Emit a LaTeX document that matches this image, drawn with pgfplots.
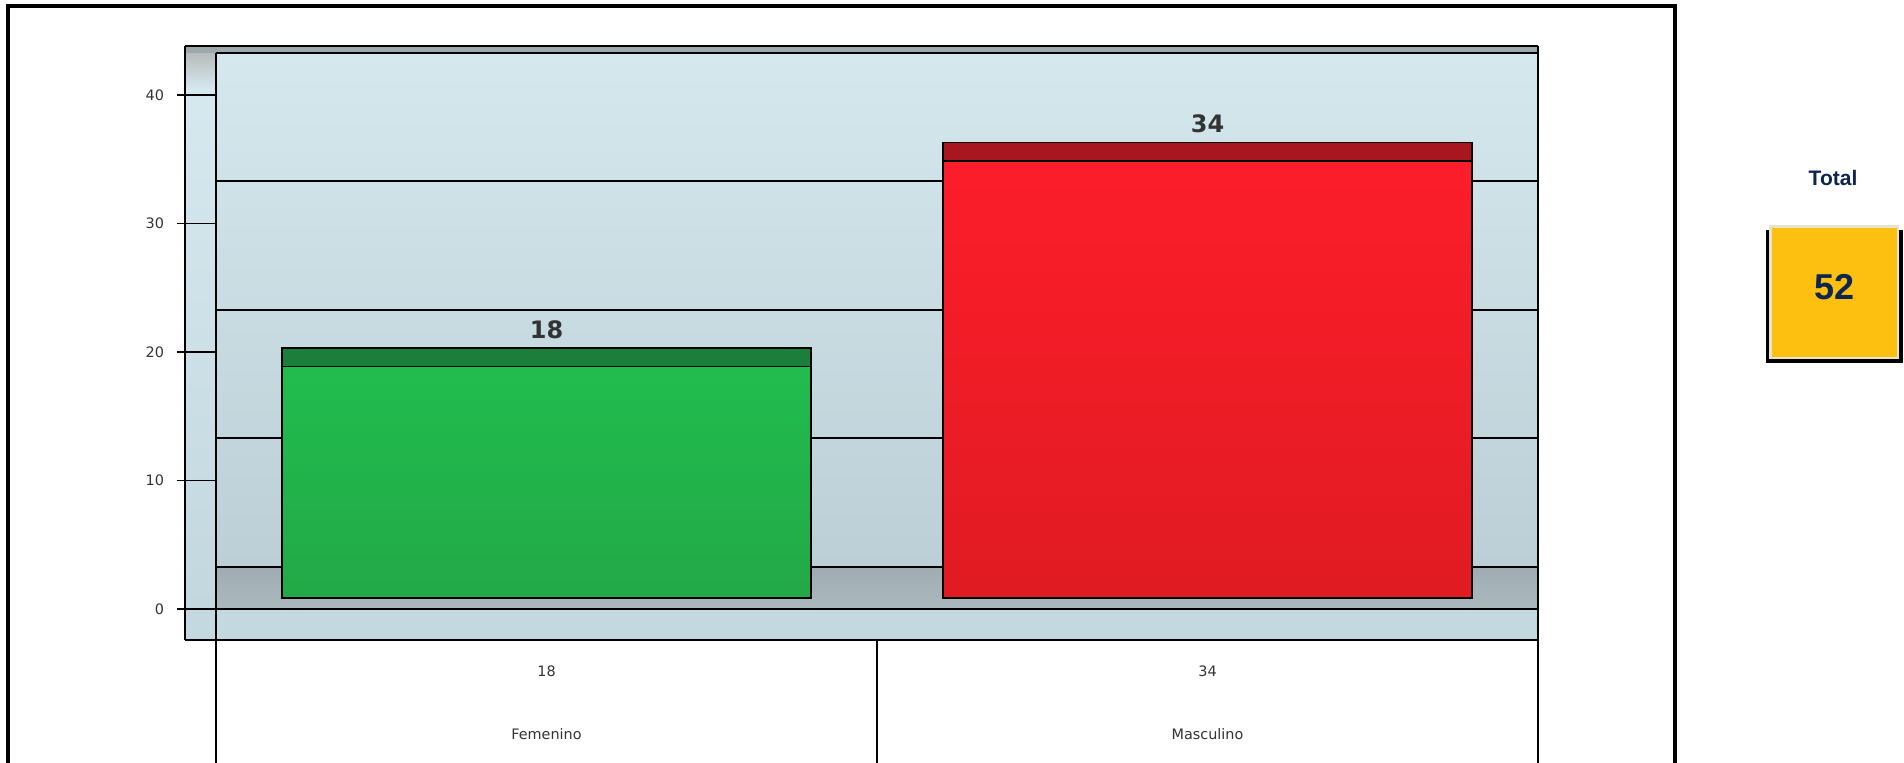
\documentclass[border=0pt]{standalone}
\usepackage{fontspec}
\setmainfont{DejaVu Sans}
\newfontfamily\arial{Liberation Sans}
\usepackage{pgfplots}
\pgfplotsset{compat=1.18}

\definecolor{wallTop}{HTML}{D4E8EE}
\definecolor{wallBot}{HTML}{BCCFD6}
\definecolor{sideTop}{HTML}{D6EAF0}
\definecolor{sideBot}{HTML}{C2D7DD}
\definecolor{strip}{HTML}{9CA8AC}
\definecolor{floorTop}{HTML}{9FACB1}
\definecolor{floorBot}{HTML}{ABB8BD}
\definecolor{frontFace}{HTML}{C3D9DF}
\definecolor{greenTop}{HTML}{21BC4E}
\definecolor{greenBot}{HTML}{22A947}
\definecolor{greenCap}{HTML}{1B7F3B}
\definecolor{redTop}{HTML}{FC1D2A}
\definecolor{redBot}{HTML}{E01B22}
\definecolor{redCap}{HTML}{A8161F}
\definecolor{boxFill}{HTML}{FDC010}
\definecolor{boxEdge}{HTML}{E9E3C9}
\definecolor{navy}{HTML}{0D2650}
\definecolor{lbl}{HTML}{333333}

\begin{document}
\begin{tikzpicture}
\begin{scope}[x=0.5pt,y=-0.5pt]
\path[use as bounding box] (0,0) rectangle (1904,763);
% outer frame
\draw[line width=1.6pt] (8,775)--(8,6)--(1675,6)--(1675,775);
% walls
\shade[top color=sideTop, bottom color=sideBot] (185,46) rectangle (216,640);
\shade[top color=gray!60, bottom color=sideTop] (185,46) rectangle (216,90);
\shade[top color=wallTop, bottom color=wallBot] (216,53) rectangle (1538,567);
\fill[strip] (185,46) rectangle (1538,53);
\shade[top color=floorTop, bottom color=floorBot] (216,567) rectangle (1538,609);
\fill[frontFace] (185,609) rectangle (1538,640);
% back wall gridlines
\foreach \gy in {567,438.5,310,181.5,53}
  \draw[line width=1pt] (216,\gy)--(1538,\gy);
\draw[line width=1pt] (185,46)--(1538,46);
\draw[line width=1pt] (185,609)--(1538,609);
\draw[line width=1pt] (185,640)--(1538,640);
\draw[line width=1pt] (185,46)--(185,640);
\draw[line width=1pt] (216,53)--(216,775);
\draw[line width=1pt] (877,640)--(877,775);
\draw[line width=1pt] (1538,46)--(1538,775);
% total box
\fill[black] (1766,230) rectangle (1903,363);
\fill[boxEdge] (1769,225) rectangle (1899,359);
\fill[boxFill] (1772,228) rectangle (1897,357);
\node[font=\arial\bfseries\fontsize{10.5}{12}\selectfont, text=navy] at (1833,178) {Total};
\node[font=\arial\bfseries\fontsize{18}{21}\selectfont, text=navy] at (1834,287) {52};
\end{scope}

% axis with the value ticks and the category table labels
\begin{axis}[
    at={(108pt,-320pt)}, anchor=south west,
    scale only axis, width=661pt, height=297pt,
    xmin=-0.5, xmax=1.5, ymin=-2.412, ymax=43.813,
    axis line style={draw=none},
    ytick={0,10,20,30,40}, ytick pos=left,
    tick align=outside, major tick length=19.5pt,
    ytick style={black, line width=0.8pt},
    xtick={0,1}, xtick style={draw=none},
    xticklabels={{18\\[23pt]Femenino},{34\\[23pt]Masculino}},
    xticklabel style={align=center, font=\fontsize{7.2}{8.5}\selectfont, text=lbl, yshift=10pt},
    yticklabel style={font=\fontsize{7.2}{8.5}\selectfont, text=lbl, xshift=-3pt},
    /pgf/number format/assume math mode=true,
]
\addplot[draw=none] coordinates {(0,0)};
\end{axis}

% axis with the bars, set a little back from the front plane
\begin{axis}[
    at={(108pt,-314.5pt)}, anchor=south west,
    scale only axis, width=661pt, height=297pt,
    xmin=-0.5, xmax=1.5, ymin=-2.412, ymax=43.813,
    hide axis,
    ybar, bar width=0.8, bar shift=0pt,
    every node near coord/.append style={font=\bfseries\fontsize{12}{14}\selectfont, text=lbl, yshift=1pt},
]
% top faces (value plus the bar depth), drawn first
\addplot[draw=black, line width=0.8pt, fill=greenCap, nodes near coords, point meta=explicit symbolic] coordinates {(0,19.45) [18]};
\addplot[draw=black, line width=0.8pt, fill=redCap, nodes near coords, point meta=explicit symbolic] coordinates {(1,35.45) [34]};
% front faces
\addplot[draw=black, line width=0.8pt, top color=greenTop, bottom color=greenBot] coordinates {(0,18)};
\addplot[draw=black, line width=0.8pt, top color=redTop, bottom color=redBot] coordinates {(1,34)};
\end{axis}
\end{tikzpicture}
\end{document}
